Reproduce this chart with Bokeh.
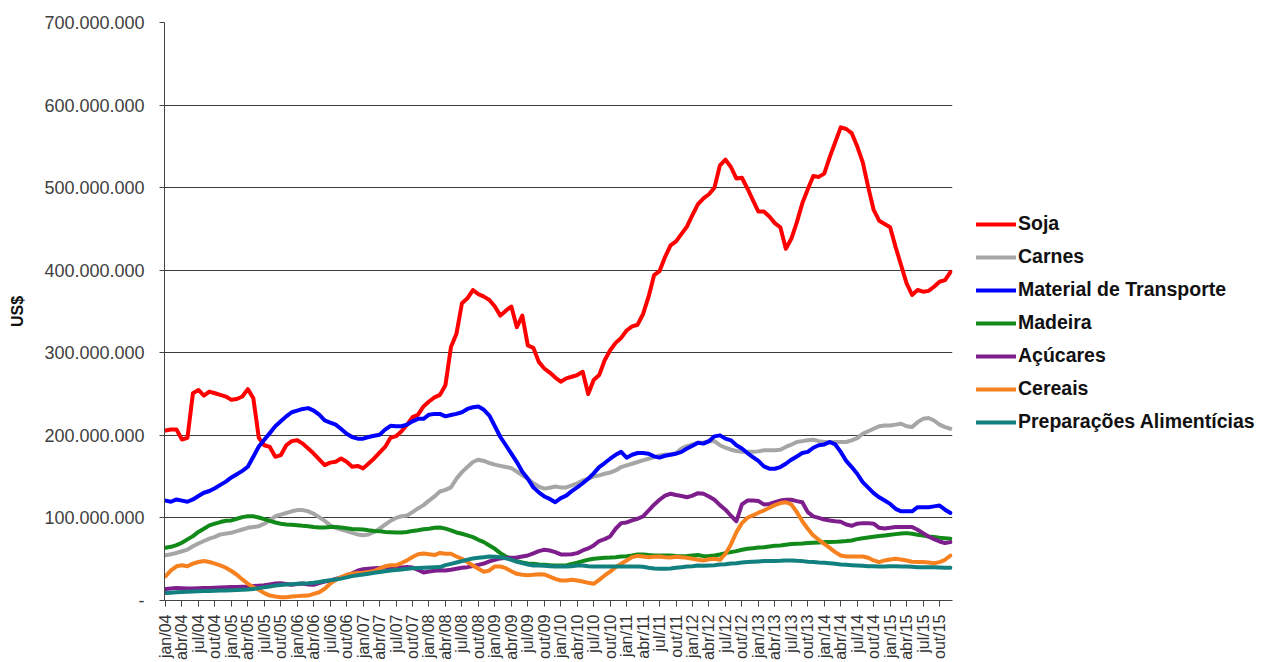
import math
from bokeh.plotting import figure
from bokeh.models import (ColumnDataSource, Legend, LegendItem, FixedTicker,
                          Range1d, CustomJSTickFormatter)
from bokeh.embed import file_html
from bokeh.resources import INLINE

# ---------------- data (US$ millions, monthly jan/04 .. dez/15) ----------------
months = list(range(144))

soja = [206, 207, 207, 195, 197, 251, 255, 248, 253, 251,
        249, 247, 243, 244, 247, 256, 245, 197, 188, 186,
        174, 176, 188, 193, 194, 190, 184, 178, 171, 164,
        167, 168, 172, 168, 162, 163, 160, 166, 172, 179,
        186, 197, 199, 205, 213, 222, 225, 235, 241, 246,
        249, 261, 307, 323, 360, 366, 376, 371, 368, 364,
        356, 345, 351, 356, 331, 345, 309, 306, 289, 281,
        276, 270, 265, 269, 271, 273, 277, 250, 267, 273,
        291, 303, 312, 318, 327, 332, 334, 347, 368, 394,
        399, 416, 430, 435, 444, 453, 467, 480, 487, 492,
        500, 527, 534, 525, 511, 512, 499, 485, 471, 471,
        465, 457, 452, 426, 438, 458, 481, 498, 514, 513,
        517, 537, 555, 573, 571, 566, 550, 531, 501, 473,
        460, 456, 452, 428, 406, 384, 370, 376, 374, 375,
        380, 386, 388, 398]

carnes = [54.7, 56, 57.6, 59.6, 61.6, 65.7, 69, 72, 75, 77,
          80, 81, 82, 84, 86, 88, 89, 90, 93, 97,
          102, 104, 106, 108, 109.5, 109.5, 108, 105, 101, 96.5,
          91, 88, 86, 84, 82, 80, 79, 80, 83, 87,
          92, 96.5, 100, 102, 103, 107, 111.5, 115.5, 121, 126,
          132, 134, 137, 147.5, 155.5, 161.6, 167.7, 170.5, 169, 166.5,
          164.5, 163, 161.6, 160.4, 156, 151.5, 147.5, 142, 138, 135.5,
          136.6, 138, 137, 137, 139.4, 142, 145.4, 147.5, 150, 151.5,
          153.5, 155, 157.5, 161.6, 163.6, 165.6, 167.7, 169.7, 171.7, 173.7,
          175.7, 176.5, 177, 178.6, 184, 187, 189, 191, 191.5, 193,
          193, 188, 185, 182.6, 181, 180, 180, 180, 180.6, 182,
          182, 182, 182.6, 186, 188.7, 192, 193, 194, 194.7, 193,
          192, 192, 192, 192, 192, 194, 196.7, 202, 205, 208,
          211, 212, 212, 213, 214, 211, 210, 216, 220, 221,
          218, 213, 210, 208]

material_transporte = [121, 119.6, 122.4, 121, 119.6, 122.4, 126.5, 130.5, 132.6, 136,
                       140, 144, 149, 153, 157, 162, 174, 186.5, 194.6, 202.7,
                       211, 217, 223, 228, 230, 232, 233, 230, 225, 218,
                       215.5, 213, 207.7, 202, 198, 196, 196, 198, 199.5, 200.7,
                       207, 211.6, 211, 211, 213, 217, 220, 220, 225, 226,
                       226, 223, 224.6, 226, 228, 232, 234, 235, 231, 224,
                       211, 198, 188, 177.8, 167.7, 156, 147.5, 137, 131, 126,
                       123, 119, 124, 127, 132.5, 137, 142, 147.5, 154, 161.6,
                       166.5, 171.7, 176.5, 180, 173, 176.5, 178.6, 178.6, 177.8, 174.5,
                       173, 175.3, 176.5, 177.8, 180, 184, 187.5, 191, 190, 193,
                       198.8, 200, 196, 194, 188, 184, 178.6, 173.7, 169, 162.4,
                       159.6, 159.6, 161.6, 165.6, 170.5, 174.5, 178.6, 180, 185, 188,
                       189, 192, 189, 180, 169, 161.6, 153.5, 143.4, 136.6, 130,
                       125, 121, 117, 111, 108, 108, 108, 113, 113, 113,
                       114, 115, 110, 106]

madeira = [64, 65, 67, 70, 74, 78, 83, 87, 91, 93,
           95, 96.5, 97, 99, 101, 102, 102, 100.5, 98.5, 96.5,
           94.5, 93, 92, 91.6, 91, 90.4, 90, 89, 88.4, 88.4,
           89, 89, 88.4, 87.6, 86.7, 86.3, 86, 85, 84.3, 84,
           83, 82.7, 82.3, 82.3, 83, 84.3, 85, 86.3, 87, 88,
           88.4, 87, 85, 82.4, 80.8, 78.8, 76.8, 73.5, 70.7, 66.7,
           62.6, 57.4, 53.3, 50.5, 47.7, 46, 44.8, 44.4, 43.6, 43.2,
           42.8, 42.4, 42.4, 42.4, 44.4, 45.7, 47.7, 49.3, 50.5, 51.3,
           51.7, 52, 52.5, 53.3, 53.7, 54.5, 55.8, 55.8, 55, 54.5,
           54.5, 54.5, 54.5, 54, 53.7, 54, 54.5, 55, 53.7, 54,
           54.5, 55.8, 57.4, 58.6, 59.8, 61.4, 62.6, 63.4, 64.2, 64.6,
           65.4, 66.3, 66.7, 67.5, 68.3, 68.7, 69, 69.5, 69.9, 70.3,
           70.7, 70.7, 71, 71.5, 72, 72.7, 74.3, 75.5, 76.4, 77.2,
           78, 78.8, 79.6, 80.4, 81.2, 81.6, 80.8, 79.6, 78.8, 77.6,
           76.8, 76, 75.5, 74.7]

acucares = [14, 14.5, 15, 14.8, 14.5, 14.5, 14.8, 15, 15.2, 15.5,
            15.8, 16, 16.2, 16.5, 16.8, 17, 17.5, 18, 18.5, 19.5,
            20.5, 21, 20, 19, 20, 20.5, 19.5, 19, 21, 23,
            24, 26, 28, 30.5, 33, 36, 38, 38.5, 39, 39.5,
            40, 40.5, 41, 40, 40.5, 40, 37, 34, 35, 36,
            36.5, 36.4, 37.2, 38.4, 39.6, 40.4, 41.6, 43.2, 44.8, 47.3,
            49.3, 51, 51.7, 51.7, 52, 53.3, 54.5, 57, 59.8, 61.4,
            60.6, 58.6, 55.8, 55.8, 56, 57.4, 60.6, 63, 66.7, 72,
            74.3, 77.6, 86.9, 93.7, 94.5, 97, 99, 101.8, 109, 116,
            122, 127, 129.3, 127.7, 126.5, 125, 127, 130, 129.3, 126,
            122, 115.5, 110, 102.6, 96, 116.4, 121, 121, 120.4, 116.4,
            117, 119, 121, 122, 122, 120.4, 119, 107, 101.8, 100,
            98, 97, 96, 95.3, 92, 90.5, 93, 93.7, 93.7, 93,
            88, 87.3, 88, 89, 89, 89, 89, 85.6, 81.6, 77.6,
            74.3, 71.5, 69.5, 70.7]

cereais = [29.2, 36.5, 41.4, 42.6, 41.4, 44.6, 46.6, 47.8, 46.6, 44.6,
           42.6, 39.7, 35.7, 31.2, 25.5, 20.3, 16.2, 13, 8.9, 6,
           4.9, 4, 4, 4.9, 5.3, 5.7, 6, 8, 10, 14.2,
           20.3, 25, 28.4, 31.2, 32.4, 33.2, 33.6, 34.5, 35.7, 38.5,
           41.4, 42.6, 42.6, 45.4, 48.6, 52.7, 56, 56.8, 56, 55,
           57.6, 56.6, 56.6, 53.3, 50.5, 46.5, 42.4, 38.4, 34.7, 36.4,
           41.2, 41.2, 39.2, 35.5, 32.3, 31.1, 30.7, 31.1, 31.9, 31.5,
           29, 26.3, 24.2, 24.2, 25, 24.2, 23, 21.4, 20.2, 25,
           30.3, 35, 40.4, 44.4, 48.5, 52.5, 54, 53.3, 52.5, 53,
           53.3, 52.5, 52, 53, 52.5, 51.7, 50.5, 49.3, 48.5, 50,
           50.5, 49.3, 56.6, 67.9, 82.8, 93.7, 100.2, 103, 106.3, 109,
           112.3, 115.5, 118, 119, 116.4, 107, 96, 86.9, 78.8, 73.5,
           68.7, 63.8, 58.6, 54.5, 53.3, 53.3, 53.3, 53.3, 51.7, 48.5,
           46.5, 48.5, 49.7, 50.5, 49.7, 48.5, 46.9, 46.5, 46.5, 46,
           45.2, 46.5, 49.3, 54.5]

preparacoes = [9, 9.5, 10, 10.3, 10.6, 11, 11.2, 11.4, 11.6, 11.8,
               12, 12.2, 12.4, 12.6, 13, 13.4, 14, 15, 16, 17,
               18.2, 18.8, 19.3, 19.8, 20.2, 20.5, 20.8, 21.5, 22.5, 23.5,
               24.5, 25.5, 26.5, 28, 29.5, 30.5, 31.5, 32.5, 33.5, 34.5,
               35.5, 36.2, 36.8, 37.5, 38.3, 39, 39.5, 39.8, 40, 40.2,
               40.5, 42.8, 44.4, 46, 47.7, 49.3, 51, 51.7, 52.5, 53.3,
               53, 52.5, 51, 49.3, 46.9, 45.2, 43.6, 42.4, 42.4, 42,
               41.6, 41.2, 41.2, 41.2, 41.6, 42.4, 42.4, 41.6, 41.2, 41.2,
               41.2, 41.2, 41.2, 41.2, 41.2, 41.2, 41.2, 40.8, 39.6, 38.8,
               38.4, 38.4, 38.8, 39.6, 40.4, 41.2, 41.6, 42.4, 42, 42.4,
               42.8, 43.6, 44, 44.8, 45.2, 46, 46.5, 46.9, 47.3, 47.7,
               47.7, 47.7, 48, 48.5, 48.5, 48, 47.7, 46.9, 46.5, 46,
               45.7, 45.2, 44.4, 43.6, 43.2, 42.8, 42.4, 42, 41.6, 41.6,
               41.2, 41.2, 41.6, 41.6, 41.2, 41.2, 40.8, 40.4, 40.4, 40.4,
               40.4, 40, 39.6, 39.6]

series_names = ["Soja", "Carnes", "Material de Transporte", "Madeira",
                "Açúcares", "Cereais", "Preparações Alimentícias"]
series_values = [soja, carnes, material_transporte, madeira,
                 acucares, cereais, preparacoes]
series_colors = ["#FF0000", "#A6A6A6", "#0000FF", "#118A1A",
                 "#7E1E8C", "#F7801F", "#12807E"]

x_tick_positions = list(range(0, 144, 3))
x_tick_labels = [f"{m}/{y:02d}" for y in range(4, 16) for m in ["jan", "abr", "jul", "out"]]
y_ticks = [0, 100000000, 200000000, 300000000, 400000000, 500000000, 600000000, 700000000]
y_tick_labels = ["-", "100.000.000", "200.000.000", "300.000.000", "400.000.000",
                 "500.000.000", "600.000.000", "700.000.000"]

# ---------------- figure ----------------
FONT = "Liberation Sans"

p = figure(frame_width=788, frame_height=578,
           min_border_left=164, min_border_top=22, min_border_bottom=60,
           min_border_right=300,
           x_range=Range1d(-0.18, 143.36), y_range=Range1d(0, 700000000),
           output_backend="svg", toolbar_location=None)
p.outline_line_color = None
p.background_fill_color = "white"
p.border_fill_color = "white"

p.xgrid.visible = False
p.ygrid.grid_line_color = "#3C3C3C"
p.ygrid.grid_line_width = 1

# y axis
p.yaxis.ticker = FixedTicker(ticks=y_ticks)
p.yaxis.formatter = CustomJSTickFormatter(
    args=dict(pos=y_ticks, labels=y_tick_labels),
    code="""
    for (let k = 0; k < pos.length; k++) {
        if (Math.abs(pos[k] - tick) < 1) { return labels[k]; }
    }
    return '';
    """)
p.yaxis.axis_label = "US$"
p.yaxis.axis_label_text_font = FONT
p.yaxis.axis_label_text_font_style = "bold"
p.yaxis.axis_label_text_font_size = "16px"
p.yaxis.axis_label_text_color = "#111111"
p.yaxis.axis_label_standoff = 15
p.yaxis.major_label_text_font = FONT
p.yaxis.major_label_text_font_size = "18px"
p.yaxis.major_label_text_color = "#404040"
p.yaxis.major_label_standoff = 15
p.yaxis.major_tick_out = 5
p.yaxis.major_tick_in = 0
p.yaxis.minor_tick_line_color = None
p.yaxis.axis_line_color = "#444444"
p.yaxis.major_tick_line_color = "#444444"

# x axis
p.xaxis.ticker = FixedTicker(ticks=x_tick_positions)
p.xaxis.formatter = CustomJSTickFormatter(
    args=dict(pos=x_tick_positions, labels=x_tick_labels),
    code="""
    for (let k = 0; k < pos.length; k++) {
        if (Math.abs(pos[k] - tick) < 0.01) { return labels[k]; }
    }
    return '';
    """)
p.xaxis.major_label_orientation = math.pi / 2
p.xaxis.major_label_text_font = FONT
p.xaxis.major_label_text_font_size = "16px"
p.xaxis.major_label_text_color = "#333333"
p.xaxis.major_label_standoff = 8
p.xaxis.major_tick_out = 6
p.xaxis.major_tick_in = 0
p.xaxis.minor_tick_line_color = None
p.xaxis.axis_line_color = "#444444"
p.xaxis.major_tick_line_color = "#444444"

items = []
for name, vals, col in zip(series_names, series_values, series_colors):
    src = ColumnDataSource(dict(x=months, y=[v * 1_000_000 for v in vals]))
    r = p.line("x", "y", source=src, line_width=4, line_color=col,
               line_join="round", line_cap="round")
    items.append(LegendItem(label=name, renderers=[r]))

legend = Legend(items=items, location=(24, 167))
legend.label_text_font = FONT
legend.label_text_font_style = "bold"
legend.label_text_font_size = "19.5px"
legend.label_text_color = "#111111"
legend.glyph_width = 40
legend.glyph_height = 20
legend.label_height = 20
legend.label_standoff = 2
legend.spacing = 10
legend.padding = 0
legend.margin = 0
legend.border_line_color = None
legend.background_fill_alpha = 0
p.add_layout(legend, "right")

open("out.html", "w").write(file_html(p, INLINE))
